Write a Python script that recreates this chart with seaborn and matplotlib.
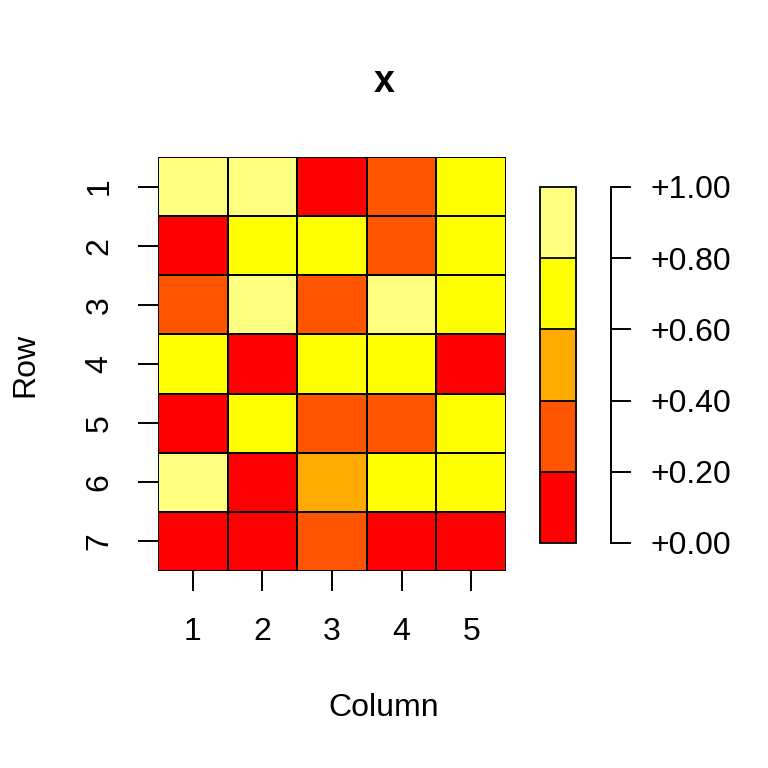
import numpy as np
import pandas as pd
import matplotlib
matplotlib.use("Agg")
import matplotlib.pyplot as plt
from matplotlib.colors import ListedColormap
import seaborn as sns

rows = ["1", "2", "3", "4", "5", "6", "7"]
cols = ["1", "2", "3", "4", "5"]
row1 = [0.93, 0.88, 0.05, 0.31, 0.72]
row2 = [0.12, 0.66, 0.74, 0.27, 0.69]
row3 = [0.35, 0.84, 0.22, 0.96, 0.63]
row4 = [0.77, 0.08, 0.61, 0.70, 0.15]
row5 = [0.03, 0.68, 0.38, 0.25, 0.79]
row6 = [0.82, 0.18, 0.47, 0.65, 0.73]
row7 = [0.10, 0.02, 0.33, 0.14, 0.07]
level_colors = ["#FF0000", "#FF5500", "#FFAA00", "#FFFF00", "#FFFF80"]
cbar_ticks = [0.0, 0.2, 0.4, 0.6, 0.8, 1.0]

sns.set_style("white")
plt.rcParams["font.family"] = ["Liberation Sans", "DejaVu Sans"]
plt.rcParams["text.color"] = "black"
plt.rcParams["xtick.color"] = "black"
plt.rcParams["ytick.color"] = "black"
plt.rcParams["axes.labelcolor"] = "black"

FS = 23

df = pd.DataFrame([row1, row2, row3, row4, row5, row6, row7], index=rows, columns=cols)
cmap = ListedColormap(level_colors)

W = 768.0
fig = plt.figure(figsize=(7.68, 7.68), dpi=100)

def pos(l, r, t, b):
    return [l / W, 1 - b / W, (r - l) / W, (b - t) / W]

ax = fig.add_axes(pos(158, 506, 157, 571))
cax = fig.add_axes(pos(540, 576, 187, 543))
tax = fig.add_axes(pos(590, 611, 187, 543))

sns.heatmap(df, ax=ax, cmap=cmap, vmin=0, vmax=1, linewidths=1.3, linecolor="black",
            cbar=True, cbar_ax=cax, cbar_kws=dict(drawedges=True, ticks=[]),
            xticklabels=cols, yticklabels=rows)

for s in ax.spines.values():
    s.set_visible(False)
ax.tick_params(axis="both", which="both", direction="out", length=14.4, width=1.4,
               color="black", labelcolor="black", labelsize=FS, left=True, bottom=True)
ax.tick_params(axis="y", pad=17)
ax.tick_params(axis="x", pad=19)
for lab in ax.get_yticklabels():
    lab.set_rotation(90)
    lab.set_va("center")
for lab in ax.get_xticklabels():
    lab.set_rotation(0)
ax.set_xlabel("")
ax.set_ylabel("")

cb = ax.collections[0].colorbar
cb.outline.set_edgecolor("black")
cb.outline.set_linewidth(1.3)
cb.dividers.set_color("black")
cb.dividers.set_linewidth(1.3)
cax.tick_params(length=0, labelsize=0)

tax.set_ylim(0, 1)
tax.set_xticks([])
for name, s in tax.spines.items():
    s.set_visible(name == "right")
tax.spines["right"].set_linewidth(1.4)
tax.spines["right"].set_color("black")
tax.yaxis.tick_right()
tax.set_yticks(cbar_ticks)
tax.set_yticklabels([f"{v:+.2f}" for v in cbar_ticks])
tax.tick_params(axis="y", direction="out", length=14.4, width=1.4, color="black",
                labelcolor="black", labelsize=FS, pad=14, right=True, left=False)
tax.patch.set_alpha(0)

fig.text(384 / W, 1 - 82 / W, "x", ha="center", va="center", fontsize=27, fontweight="bold",
         color="black")
fig.text(384 / W, 1 - 708 / W, "Column", ha="center", va="center", fontsize=FS, color="black")
fig.text(25 / W, 1 - 365 / W, "Row", ha="center", va="center", fontsize=FS, rotation=90,
         color="black")

fig.savefig("out.png", dpi=100)
